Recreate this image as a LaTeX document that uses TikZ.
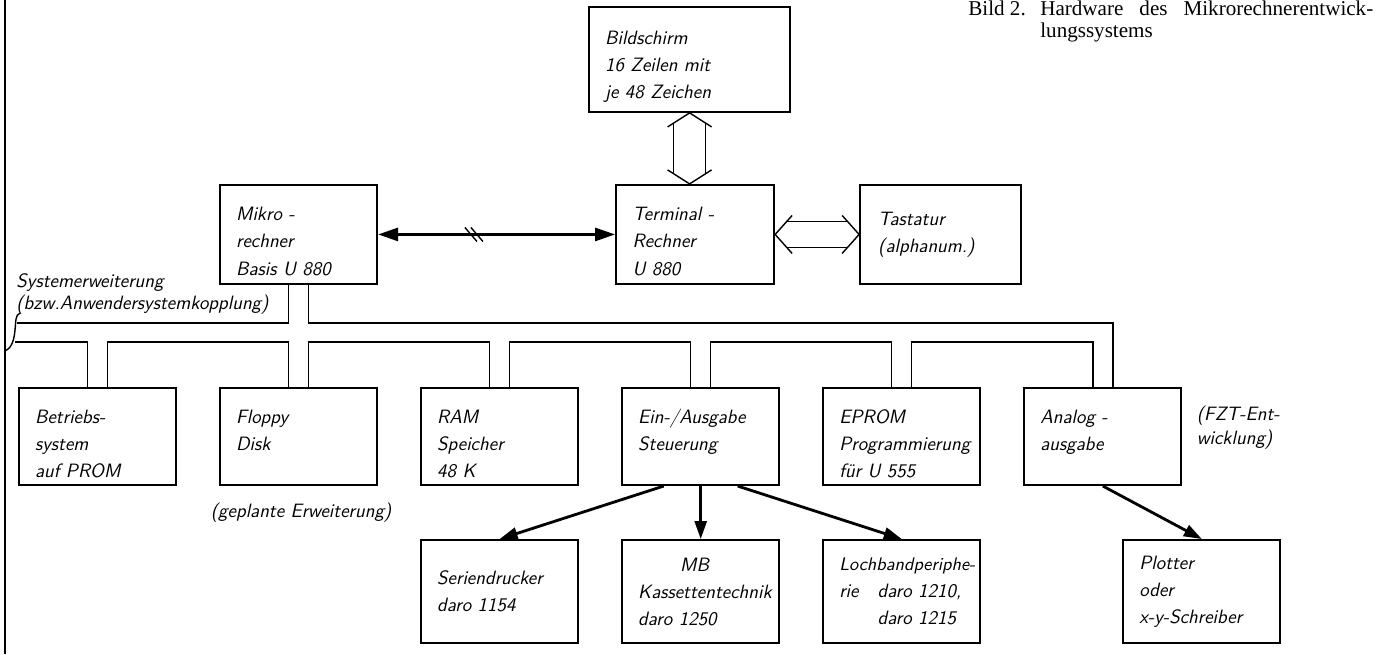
\documentclass[tikz,border=0pt]{standalone}
\usepackage{fontspec}
\newfontfamily\capfont{Liberation Serif}
\usetikzlibrary{positioning,arrows.meta,calc}

\begin{document}
\begin{tikzpicture}[
    x=0.02cm, y=-0.02cm,
    blk/.style={draw, line width=1.2pt, align=left, text width=2.5cm,
                inner xsep=0.32cm, inner ysep=0pt, minimum width=3.14cm,
                minimum height=1.94cm,
                font=\fontsize{11}{15.4}\selectfont\sffamily\slshape,
                execute at begin node={\hyphenpenalty=10000\relax}},
    low/.style={execute at begin node={\rule{0pt}{0.55cm}}},
    note/.style={inner sep=0pt, align=left,
                 font=\fontsize{11}{12.6}\selectfont\sffamily\slshape},
    bus/.style={line width=0.8pt},
    hol/.style={line width=0.8pt},
    arr/.style={-{Triangle[length=0.36cm,width=0.24cm]}, line width=1.6pt},
    dbl/.style={{Triangle[length=0.4cm,width=0.26cm]}-{Triangle[length=0.4cm,width=0.26cm]},
                line width=1.6pt},
]
\useasboundingbox (0,0) rectangle (1393,654);

% ---- frame line ----
\draw[line width=1pt] (5,0) -- (5,654);

% ---- system bus modules ----
\node[blk, low] (bs) at (97.5,436.5) {Betriebs-\\system\\auf PROM};
\node[blk, low, right=0.84cm of bs] (fd) {Floppy\\Disk\\\mbox{}};
\node[blk, low, right=0.84cm of fd] (ram) {RAM\\Speicher\\48 K};
\node[blk, low, right=0.84cm of ram] (eas) {Ein-/Ausgabe\\Steuerung\\\mbox{}};
\node[blk, low, right=0.84cm of eas] (epr) {EPROM\\Programmierung\\für U 555};
\node[blk, low, right=0.84cm of epr] (ana) {Analog -\\ausgabe\\\mbox{}};

% ---- peripherals ----
\node[blk, minimum height=2.06cm, below=1.06cm of ram] (ser) {Seriendrucker\\daro 1154};
\node[blk, minimum height=2.06cm, below=1.06cm of eas] (mb) {\hspace*{0.84cm}MB\\Kassettentechnik\\daro 1250};
\node[blk, minimum height=2.06cm, below=1.06cm of epr] (loch) {\mbox{\fontsize{10.4}{15.4}\selectfont Lochbandperiphe-}\\rie\hspace{0.38cm}daro 1210,\\\phantom{rie}\hspace{0.38cm}daro 1215};
\node[blk, minimum height=2.06cm, below=1.06cm of ana, xshift=1.98cm] (plot) {Plotter\\oder\\x-y-Schreiber};

% ---- computers ----
\node[blk, low, minimum height=1.98cm, above=2.04cm of fd] (mik) {Mikro -\\rechner\\Basis U 880};
\node[blk, low, minimum height=1.98cm, minimum width=3.16cm, right=4.74cm of mik] (term) {Terminal -\\Rechner\\U 880};
\node[blk, minimum height=1.98cm, minimum width=3.22cm, right=1.68cm of term] (tast) {Tastatur\\(alphanum.)};
\node[blk, low, minimum height=2.1cm, minimum width=4.02cm, text width=3.38cm,
      above=1.42cm of term, xshift=-0.11cm] (bild) {Bildschirm\\16 Zeilen mit\\je 48 Zeichen};

% ---- bus ----
\foreach \n in {bs,fd,ram,eas,epr,ana} {
  \coordinate (l\n) at ($(\n.north)+(-10,0)$);
  \coordinate (r\n) at ($(\n.north)+(10,0)$);
}
\coordinate (lmik) at ($(mik.south)+(-10,0)$);
\coordinate (rmik) at ($(mik.south)+(10,0)$);
\coordinate (busA) at (17,323);
\coordinate (busB) at (15,342);

\draw[bus] (busA) -- (lmik |- busA) -- (lmik);
\draw[bus] (rmik) -- (rmik |- busA) -- (rana |- busA) -- (rana);
\draw[bus] (busB) -- (lbs |- busB) -- (lbs);
\foreach \a/\b in {bs/fd, fd/ram, ram/eas, eas/epr, epr/ana}
  \draw[bus] (r\a) -- (r\a |- busB) -- (l\b |- busB) -- (l\b);
\draw[bus] (20,313) .. controls (15,315) and (16,322) .. (15,330)
           .. controls (14,343) and (10,349) .. (5,351);

% ---- links ----
\draw[dbl] (mik.east) -- (term.west);
\coordinate (brk) at ($(mik.east)!0.4!(term.west)$);
\draw[line width=0.8pt] ($(brk)+(-8,-7)$) -- ++(12,14) ($(brk)+(-2,-7)$) -- ++(12,14);

\draw[hol] ($(term.east)+(17,-19)$) -- (term.east) -- ($(term.east)+(17,19)$);
\draw[hol] ($(tast.west)+(-17,-19)$) -- (tast.west) -- ($(tast.west)+(-17,19)$);
\draw[hol] ($(term.east)+(11.6,-13)$) -- ($(tast.west)+(-11.6,-13)$);
\draw[hol] ($(term.east)+(11.6,13)$) -- ($(tast.west)+(-11.6,13)$);

\coordinate (vt) at (bild.south |- term.north);
\draw[hol] ($(bild.south)+(-22,14)$) -- (bild.south) -- ($(bild.south)+(22,14)$);
\draw[hol] ($(vt)+(-22,-14)$) -- (vt) -- ($(vt)+(22,-14)$);
\draw[hol] ($(bild.south)+(-16,10.2)$) -- ($(vt)+(-16,-10.2)$);
\draw[hol] ($(bild.south)+(16,10.2)$) -- ($(vt)+(16,-10.2)$);

\draw[arr] ($(eas.south)+(-37,0)$) -- (ser.north);
\draw[arr] (eas.south) -- (mb.north);
\draw[arr] ($(eas.south)+(37,0)$) -- (loch.north);
\draw[arr] (ana.south) -- (plot.north);

% ---- notes ----
\node[note, anchor=north west] (sysnote) at (16,273) {Systemerweiterung\\(bzw.Anwendersystemkopplung)};
\node[note, below=0.34cm of fd, xshift=0.05cm] (plan) {(geplante Erweiterung)};
\node[note, anchor=north west, font=\fontsize{11}{13.4}\selectfont\sffamily\slshape] (fzt)
  at ($(ana.north east)+(14,19)$) {(FZT-Ent-\\wicklung)};

% ---- caption ----
\node[anchor=north west, inner sep=0pt, align=left, font=\capfont\fontsize{12}{12.5}\selectfont] (cap)
  at (968,1) {\makebox[1.44cm][l]{Bild 2.}\makebox[6.66cm][s]{Hardware des Mikrorechnerentwick-}\\
  \hspace*{1.44cm}lungssystems};

\end{tikzpicture}
\end{document}
